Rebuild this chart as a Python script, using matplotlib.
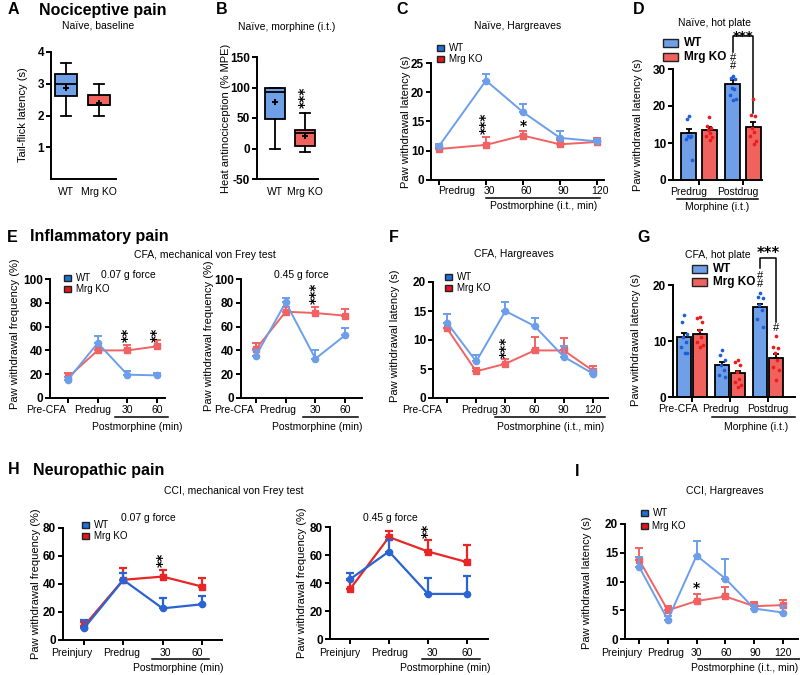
import numpy as np
import matplotlib
matplotlib.use('Agg')
import matplotlib.pyplot as plt
from matplotlib.lines import Line2D
from matplotlib.patches import Rectangle
from matplotlib.transforms import ScaledTranslation, blended_transform_factory as btf

plt.rcParams['font.family'] = ['Liberation Sans', 'DejaVu Sans']

# ---------------- data ----------------
# A: tail flick, box stats (WT, Mrg KO)
A_groups = ['WT', 'Mrg KO']
A_whislo = [2.0, 2.0]
A_q1 = [2.62, 2.32]
A_med = [3.0, 2.34]
A_q3 = [3.31, 2.66]
A_whishi = [3.66, 3.0]
A_mean = [2.88, 2.4]
# B: heat antinociception (% MPE)
B_groups = ['WT', 'Mrg KO']
B_whislo = [0, -6]
B_q1 = [48, 4]
B_med = [92, 25]
B_q3 = [100, 31]
B_whishi = [100, 59]
B_mean = [77, 20]
# C: naive Hargreaves
C_labels = ['Predrug', '30', '60', '90', '120']
C_wt = [10.8, 22.0, 16.6, 12.2, 11.6]
C_wt_err = [0.3, 1.1, 1.4, 1.2, 0.4]
C_ko = [10.3, 11.0, 12.6, 11.1, 11.5]
C_ko_err = [0.3, 1.4, 0.7, 0.8, 0.6]
# D: naive hot plate
D_labels = ['Predrug', 'Postdrug']
D_wt = [12.6, 25.9]
D_wt_err = [1.2, 1.0]
D_ko = [13.4, 14.3]
D_ko_err = [0.8, 1.4]
D_wt_pts = [[17.4, 16.5, 12.0, 11.8, 11.6, 11.0, 5.5],
            [28.0, 27.6, 27.4, 25.0, 24.5, 23.0, 22.0, 21.5]]
D_ko_pts = [[16.9, 14.6, 14.0, 13.5, 12.8, 12.0, 11.5, 10.8],
            [21.8, 17.6, 17.2, 14.0, 13.0, 12.0, 10.5, 9.6]]
# E: CFA von Frey
E_labels = ['Pre-CFA', 'Predrug', '30', '60']
E1_wt = [15.4, 46.2, 19.6, 19.0]
E1_wt_err = [2.0, 6.0, 2.8, 2.0]
E1_ko = [17.4, 40.0, 40.0, 43.4]
E1_ko_err = [3.5, 3.0, 4.5, 5.6]
E2_wt = [35.6, 80.4, 33.0, 52.7]
E2_wt_err = [5.0, 3.6, 7.0, 6.0]
E2_ko = [41.2, 72.5, 71.4, 69.2]
E2_ko_err = [5.0, 4.0, 4.7, 5.6]
# F: CFA Hargreaves
F_labels = ['Pre-CFA', 'Predrug', '30', '60', '90', '120']
F_wt = [13.0, 6.3, 15.0, 12.4, 7.1, 4.2]
F_wt_err = [1.4, 1.1, 1.5, 1.4, 1.9, 0.6]
F_ko = [12.0, 4.6, 5.9, 8.2, 8.2, 4.7]
F_ko_err = [0.9, 0.6, 0.9, 2.4, 2.2, 0.8]
# G: CFA hot plate
G_labels = ['Pre-CFA', 'Predrug', 'Postdrug']
G_wt = [10.7, 5.7, 16.0]
G_wt_err = [0.8, 0.6, 0.6]
G_ko = [11.3, 4.2, 6.9]
G_ko_err = [0.7, 0.5, 0.8]
G_wt_pts = [[14.7, 13.4, 11.3, 10.7, 9.8, 9.0, 7.9, 7.8],
            [8.4, 7.5, 6.6, 5.7, 4.8, 3.9, 3.6],
            [18.5, 17.9, 17.6, 16.4, 15.5, 14.0, 12.5]]
G_ko_pts = [[14.3, 14.1, 13.4, 11.9, 10.7, 9.8, 9.3, 9.0],
            [6.6, 6.3, 5.7, 4.5, 3.3, 2.7, 2.1, 1.8],
            [10.9, 9.0, 8.7, 7.8, 6.6, 5.4, 4.8, 3.0]]
# H: CCI von Frey
H_labels = ['Preinjury', 'Predrug', '30', '60']
H1_wt = [8.4, 42.9, 22.6, 25.5]
H1_wt_err = [6.0, 4.8, 7.7, 6.2]
H1_ko = [10.0, 43.0, 45.3, 38.2]
H1_ko_err = [3.0, 8.3, 4.7, 6.0]
H2_wt = [42.7, 62.5, 32.2, 32.2]
H2_wt_err = [4.3, 8.4, 11.2, 13.0]
H2_ko = [35.6, 72.8, 62.5, 54.9]
H2_ko_err = [6.5, 4.5, 8.4, 12.0]
# I: CCI Hargreaves
I_labels = ['Preinjury', 'Predrug', '30', '60', '90', '120']
I_wt = [12.6, 3.35, 14.5, 10.5, 5.3, 4.6]
I_wt_err = [1.7, 0.6, 2.6, 3.4, 0.7, 1.1]
I_ko = [13.8, 5.0, 6.6, 7.4, 5.7, 5.9]
I_ko_err = [2.0, 0.8, 1.3, 1.7, 0.7, 0.8]

# ---------------- style ----------------
LB, LR = '#6c9eea', '#f26262'        # light lines
BB, BR = '#6e9fe7', '#f0625e'        # bar / box fill
DB, DR = '#1d5fd8', '#ec1c1c'        # dots
SB, SR = '#1c72d8', '#e8141c'        # legend squares
HB, HR = '#2a63d3', '#e82626'        # panel H lines

W, H = 800, 675
fig = plt.figure(figsize=(W / 100, H / 100), dpi=100)


def px_axes(l, t, r, b):
    ax = fig.add_axes([l / W, 1 - b / H, (r - l) / W, (b - t) / H])
    ax.patch.set_alpha(0)
    for s in ('top', 'right'):
        ax.spines[s].set_visible(False)
    for s in ('left', 'bottom'):
        ax.spines[s].set_linewidth(1.4)
    ax.tick_params(width=1.4, length=3.5, labelsize=8.5, pad=1.5)
    return ax


def xlim_px(ax, l, r, p0, unit, x0=0.0):
    ax.set_xlim(x0 + (l - p0) / unit, x0 + (r - p0) / unit)


def ftext(x, y, s, **kw):
    kw.setdefault('ha', 'center')
    kw.setdefault('va', 'center')
    fig.text(x / W, 1 - y / H, s, **kw)


def fline(x1, x2, y, lw=1.1):
    fig.add_artist(Line2D([x1 / W, x2 / W], [1 - y / H, 1 - y / H], color='k', lw=lw))


def fsquare(x, y, w, h, color, text, fs=7, bold=False, gap=5):
    fig.add_artist(Rectangle((x / W, 1 - (y + h / 2) / H), w / W, h / H,
                             facecolor=color, edgecolor='#222', lw=1.0))
    ftext(x + w + gap, y, text, ha='left', fontsize=fs,
          fontweight='bold' if bold else 'normal')


def yticks(ax, ticks, labels=None):
    ax.set_yticks(ticks)
    ax.set_yticklabels(labels if labels is not None else [str(t) for t in ticks],
                       fontweight='bold', fontsize=8.5)


def xlabels(ax, pos, labels, dy, shifts=None, fs=7.5, ticks=True):
    if ticks:
        ax.set_xticks(pos)
    else:
        ax.set_xticks([])
    ax.set_xticklabels([])
    if shifts is None:
        shifts = [0] * len(pos)
    base = btf(ax.transData, ax.transAxes)
    for p, s, dx in zip(pos, labels, shifts):
        ax.text(p, 0, s, transform=base + ScaledTranslation(dx / 100, -dy / 100, fig.dpi_scale_trans),
                ha='center', va='center', fontsize=fs, clip_on=False)


def lines(ax, x, wt, wte, ko, koe, cw, ck, lw=1.4, ms=4.5):
    z = np.zeros(len(x))
    ax.errorbar(x, ko, yerr=[z, koe], color=ck, marker='s', ms=ms, lw=lw, elinewidth=lw,
                capsize=2.8, capthick=lw, clip_on=False, zorder=3)
    ax.errorbar(x, wt, yerr=[z, wte], color=cw, marker='o', ms=ms, lw=lw, elinewidth=lw,
                capsize=2.8, capthick=lw, clip_on=False, zorder=4)


def star(ax, x, y, s, rot=90, fs=10):
    ax.text(x, y, s, rotation=rot, ha='center', va='center', fontsize=fs,
            fontweight='bold', family='DejaVu Sans', clip_on=False)


def ylab(x, y, s):
    ftext(x, y, s, rotation=90, fontsize=8)


JIT = [0.0, -0.07, 0.07, -0.035, 0.04, -0.1, 0.1, 0.015, -0.015]


def bars(ax, pos, vals, errs, pts, fill, dotc, width):
    ax.bar(pos, vals, width, color=fill, edgecolor='k', lw=1.3, zorder=2)
    ax.errorbar(pos, vals, yerr=[np.zeros(len(vals)), errs], fmt='none', ecolor='k',
                elinewidth=1.3, capsize=2.5, capthick=1.3, zorder=3)
    for p, grp in zip(pos, pts):
        ax.scatter(p + np.array(JIT[:len(grp)]) * width * 2.2, grp, s=7, color=dotc,
                   zorder=4, linewidths=0, clip_on=False)


# ---------------- headings ----------------
ftext(8, 10, 'A', ha='left', fontsize=11.5, fontweight='bold')
ftext(39, 10, 'Nociceptive pain', ha='left', fontsize=11.5, fontweight='bold')
ftext(216, 10, 'B', ha='left', fontsize=11.5, fontweight='bold')
ftext(396, 10, 'C', ha='left', fontsize=11.5, fontweight='bold')
ftext(633, 10, 'D', ha='left', fontsize=11.5, fontweight='bold')
ftext(7, 237, 'E', ha='left', fontsize=11.5, fontweight='bold')
ftext(30, 237, 'Inflammatory pain', ha='left', fontsize=11.5, fontweight='bold')
ftext(389, 237, 'F', ha='left', fontsize=11.5, fontweight='bold')
ftext(637, 237, 'G', ha='left', fontsize=11.5, fontweight='bold')
ftext(8, 470, 'H', ha='left', fontsize=11.5, fontweight='bold')
ftext(33, 470, 'Neuropathic pain', ha='left', fontsize=11.5, fontweight='bold')
ftext(575, 471, 'I', ha='left', fontsize=11.5, fontweight='bold')

# ---------------- A ----------------
ax = px_axes(51, 52, 116, 179)
ax.set_ylim(0, 4)
yticks(ax, [1, 2, 3, 4])
xlim_px(ax, 51, 116, 66, 33, x0=1)
for i, c in enumerate([BB, BR]):
    st = dict(whislo=A_whislo[i], q1=A_q1[i], med=A_med[i], q3=A_q3[i],
              whishi=A_whishi[i], mean=A_mean[i], fliers=[])
    ax.bxp([st], positions=[i + 1], widths=0.64, capwidths=0.32, patch_artist=True,
           showmeans=True, manage_ticks=False,
           boxprops=dict(facecolor=c, edgecolor='k', lw=1.3),
           whiskerprops=dict(lw=1.3), capprops=dict(lw=1.3),
           medianprops=dict(color='k', lw=1.3),
           meanprops=dict(marker='+', markeredgecolor='k', markersize=5, mew=1.4))
xlabels(ax, [1, 2], A_groups, 13, ticks=False)
ftext(98, 26, 'Naïve, baseline', fontsize=7.5)
ylab(23, 115, 'Tail-flick latency (s)')

# ---------------- B ----------------
ax = px_axes(257, 57, 318, 179)
ax.set_ylim(-50, 150)
yticks(ax, [-50, 0, 50, 100, 150])
xlim_px(ax, 257, 318, 275, 30, x0=1)
for i, c in enumerate([BB, BR]):
    st = dict(whislo=B_whislo[i], q1=B_q1[i], med=B_med[i], q3=B_q3[i],
              whishi=B_whishi[i], mean=B_mean[i], fliers=[])
    ax.bxp([st], positions=[i + 1], widths=0.66, capwidths=0.33, patch_artist=True,
           showmeans=True, manage_ticks=False,
           boxprops=dict(facecolor=c, edgecolor='k', lw=1.3),
           whiskerprops=dict(lw=1.3), capprops=dict(lw=1.3),
           medianprops=dict(color='k', lw=1.3),
           meanprops=dict(marker='+', markeredgecolor='k', markersize=5, mew=1.4))
xlabels(ax, [1, 2], B_groups, 13, ticks=False)
star(ax, 2, 84, '***')
ftext(287, 27, 'Naïve, morphine (i.t.)', fontsize=7.5)
ylab(226, 118, 'Heat antinociception (% MPE)')

# ---------------- C ----------------
ax = px_axes(431, 63, 604, 180)
ax.set_ylim(5, 25)
yticks(ax, [5, 10, 15, 20, 25], ['0', '10', '15', '20', '25'])
C_pos = [0, 1.27, 2.27, 3.27, 4.27]
xlim_px(ax, 431, 604, 439, 37)
lines(ax, C_pos, C_wt, C_wt_err, C_ko, C_ko_err, LB, LR)
xlabels(ax, C_pos, C_labels, 11, shifts=[18, 3, 3, 3, 3])
star(ax, C_pos[1], 14.7, '***')
star(ax, C_pos[2], 14.3, '*', rot=0)
fline(486, 600, 198)
ftext(544, 206, 'Postmorphine (i.t., min)', fontsize=7.5)
ftext(518, 26, 'Naïve, Hargreaves', fontsize=7.5)
ylab(406, 122, 'Paw withdrawal latency (s)')
fsquare(437, 48, 6.5, 6.5, SB, 'WT')
fsquare(437, 59, 6.5, 6.5, SR, 'Mrg KO')

# ---------------- D ----------------
ax = px_axes(673, 69, 762, 180)
ax.set_ylim(0, 30)
yticks(ax, [0, 10, 20, 30])
xlim_px(ax, 673, 762, 699, 44)
D_g = np.arange(len(D_labels))
bars(ax, D_g - 0.23, D_wt, D_wt_err, D_wt_pts, BB, DB, 0.34)
bars(ax, D_g + 0.23, D_ko, D_ko_err, D_ko_pts, BR, DR, 0.34)
xlabels(ax, D_g, D_labels, 12, shifts=[-10, -5])
fline(677, 758, 199)
ftext(717, 207, 'Morphine (i.t.)', fontsize=7.5)
ax.text(1 - 0.23, 31.8, '#\n#', ha='center', va='center', fontsize=8, linespacing=0.75,
        clip_on=False)
ax.plot([1 - 0.23, 1 - 0.23, 1 + 0.23, 1 + 0.23], [34.5, 38.8, 38.8, 18.0], color='k',
        lw=1.1, clip_on=False)
star(ax, 1.0, 38.9, '***', rot=0, fs=9.5)
ftext(715, 23, 'Naïve, hot plate', fontsize=7.5)
ylab(638, 125, 'Paw withdrawal latency (s)')
fsquare(663, 43, 15, 8.5, BB, 'WT', fs=8.5, bold=True, gap=6)
fsquare(663, 57, 15, 8.5, BR, 'Mrg KO', fs=8.5, bold=True, gap=6)

# ---------------- E ----------------
ftext(205, 255, 'CFA, mechanical von Frey test', fontsize=7.5)
E_pos = np.arange(len(E_labels))
ax = px_axes(50, 279, 165, 398)
ax.set_ylim(0, 100)
yticks(ax, [0, 20, 40, 60, 80, 100])
xlim_px(ax, 50, 165, 68, 29.7)
lines(ax, E_pos, E1_wt, E1_wt_err, E1_ko, E1_ko_err, LB, LR)
xlabels(ax, E_pos, E_labels, 12, shifts=[-22, -5, 0, 0])
star(ax, 2, 53, '**')
star(ax, 3, 53, '**')
fline(115, 168, 417)
ftext(137, 427, 'Postmorphine (min)', fontsize=7.5)
ftext(128, 275, '0.07 g force', fontsize=7.5)
ylab(15, 334, 'Paw withdrawal frequency (%)')
fsquare(64, 278, 6.5, 6.5, SB, 'WT')
fsquare(64, 289, 6.5, 6.5, SR, 'Mrg KO')

ax = px_axes(241, 279, 362, 398)
ax.set_ylim(0, 100)
yticks(ax, [0, 20, 40, 60, 80, 100])
xlim_px(ax, 241, 362, 256, 29.7)
lines(ax, E_pos, E2_wt, E2_wt_err, E2_ko, E2_ko_err, LB, LR)
xlabels(ax, E_pos, E_labels, 12, shifts=[-22, -8, 0, 0])
star(ax, 2, 88, '***')
fline(303, 358, 417)
ftext(317, 427, 'Postmorphine (min)', fontsize=7.5)
ftext(301, 275, '0.45 g force', fontsize=7.5)
ylab(209, 336, 'Paw withdrawal frequency (%)')

# ---------------- F ----------------
ax = px_axes(433, 282, 608, 398)
ax.set_ylim(0, 20)
yticks(ax, [0, 5, 10, 15, 20])
F_pos = np.arange(len(F_labels))
xlim_px(ax, 433, 608, 447, 29.2)
lines(ax, F_pos, F_wt, F_wt_err, F_ko, F_ko_err, LB, LR)
xlabels(ax, F_pos, F_labels, 12, shifts=[-25, 3, 0, 0, 0, 0])
star(ax, 2, 8.8, '***')
fline(495, 605, 417)
ftext(551, 427, 'Postmorphine (i.t., min)', fontsize=7.5)
ftext(514, 254, 'CFA, Hargreaves', fontsize=7.5)
ylab(395, 336, 'Paw withdrawal latency (s)')
fsquare(445, 277, 6.5, 6.5, SB, 'WT')
fsquare(445, 288, 6.5, 6.5, SR, 'Mrg KO')

# ---------------- G ----------------
ax = px_axes(673, 285, 795, 397)
ax.set_ylim(0, 20)
yticks(ax, [0, 10, 20])
xlim_px(ax, 673, 795, 692, 38)
G_g = np.arange(len(G_labels))
bars(ax, G_g - 0.2, G_wt, G_wt_err, G_wt_pts, BB, DB, 0.37)
bars(ax, G_g + 0.2, G_ko, G_ko_err, G_ko_pts, BR, DR, 0.37)
xlabels(ax, G_g, G_labels, 12, shifts=[-14, -9, 0])
ax.text(2 - 0.2, 20.9, '#\n#', ha='center', va='center', fontsize=8, linespacing=0.75,
        clip_on=False)
ax.text(2 + 0.2, 12.3, '#', ha='center', va='center', fontsize=8, clip_on=False)
ax.plot([2 - 0.2, 2 - 0.2, 2 + 0.2, 2 + 0.2], [23.0, 24.8, 24.8, 13.4], color='k',
        lw=1.1, clip_on=False)
star(ax, 2.0, 25.6, '***', rot=0, fs=10.5)
fline(712, 795, 417)
ftext(756, 427, 'Morphine (i.t.)', fontsize=7.5)
ftext(718, 255, 'CFA, hot plate', fontsize=7.5)
ylab(636, 340, 'Paw withdrawal latency (s)')
fsquare(692, 269, 15, 8.5, BB, 'WT', fs=8.5, bold=True, gap=6)
fsquare(692, 282, 15, 8.5, BR, 'Mrg KO', fs=8.5, bold=True, gap=6)

# ---------------- H ----------------
ftext(234, 491, 'CCI, mechanical von Frey test', fontsize=7.5)
H_pos = np.arange(len(H_labels))
ax = px_axes(63, 528, 222, 640)
ax.set_ylim(0, 80)
yticks(ax, [0, 20, 40, 60, 80])
xlim_px(ax, 63, 222, 84, 39.3)
lines(ax, H_pos, H1_wt, H1_wt_err, H1_ko, H1_ko_err, HB, HR, lw=1.6)
xlabels(ax, H_pos, H_labels, 13, shifts=[-12, -2, 3, -5])
star(ax, 2, 57, '**')
fline(152, 209, 659)
ftext(178, 668, 'Postmorphine (min)', fontsize=7.5)
ftext(148, 518, '0.07 g force', fontsize=7.5)
ylab(36, 584, 'Paw withdrawal frequency (%)')
fsquare(82, 525, 6.5, 6.5, SB, 'WT')
fsquare(82, 536, 6.5, 6.5, SR, 'Mrg KO')

ax = px_axes(330, 527, 488, 639)
ax.set_ylim(0, 80)
yticks(ax, [0, 20, 40, 60, 80])
xlim_px(ax, 330, 488, 350, 39)
lines(ax, H_pos, H2_wt, H2_wt_err, H2_ko, H2_ko_err, HB, HR, lw=1.6)
xlabels(ax, H_pos, H_labels, 14, shifts=[-10, 1, 4, 0])
star(ax, 2, 77, '**')
fline(422, 480, 659)
ftext(445, 668, 'Postmorphine (min)', fontsize=7.5)
ftext(390, 518, '0.45 g force', fontsize=7.5)
ylab(302, 583, 'Paw withdrawal frequency (%)')

# ---------------- I ----------------
ax = px_axes(625, 524, 798, 639)
ax.set_ylim(0, 20)
yticks(ax, [0, 5, 10, 15, 20])
I_pos = np.arange(len(I_labels))
xlim_px(ax, 625, 798, 639, 28.8)
lines(ax, I_pos, I_wt, I_wt_err, I_ko, I_ko_err, LB, LR)
xlabels(ax, I_pos, I_labels, 14, shifts=[-17, -2, 0, 1, 1, 0])
star(ax, 2, 8.8, '*', rot=0)
fline(698, 800, 659)
ftext(745, 668, 'Postmorphine (i.t., min)', fontsize=7.5)
ftext(725, 491, 'CCI, Hargreaves', fontsize=7.5)
ylab(587, 583, 'Paw withdrawal latency (s)')
fsquare(641, 513, 6.5, 6.5, SB, 'WT')
fsquare(641, 526, 6.5, 6.5, SR, 'Mrg KO')

fig.savefig('out.png', dpi=100)
